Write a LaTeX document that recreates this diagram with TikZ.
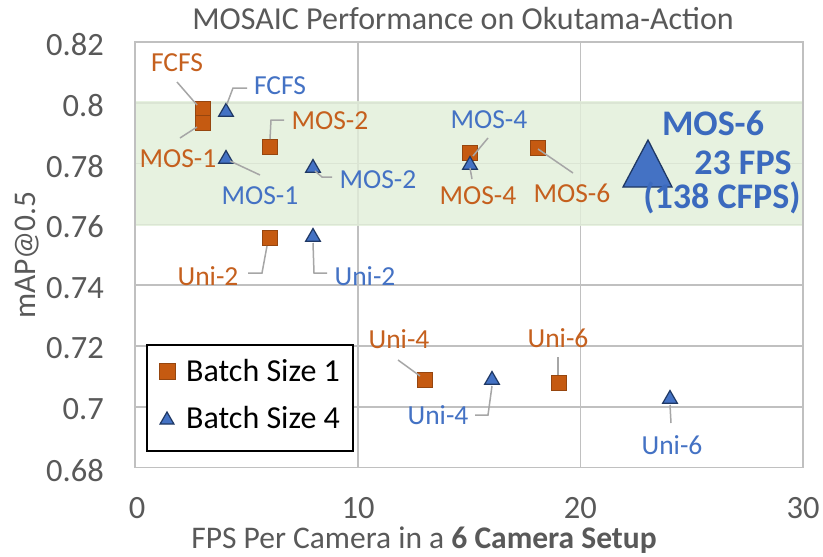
\documentclass[tikz,border=0pt]{standalone}
\usepackage{fontspec}
\setmainfont{Carlito}
\usetikzlibrary{shapes.geometric}
\definecolor{gridgray}{RGB}{192,192,192}
\definecolor{bandgreen}{RGB}{226,239,217}
\definecolor{orng}{RGB}{197,90,17}
\definecolor{orngedge}{RGB}{150,70,15}
\definecolor{orngtext}{RGB}{197,96,30}
\definecolor{triblue}{RGB}{68,114,196}
\definecolor{triedge}{RGB}{31,56,100}
\definecolor{bluetext}{RGB}{68,114,196}
\definecolor{bigblue}{RGB}{59,106,190}
\definecolor{axtext}{RGB}{89,89,89}
\definecolor{leadgray}{RGB}{166,166,166}
\begin{document}
\begin{tikzpicture}[x=1pt,y=-1pt,
  gridl/.style={draw=gridgray, line width=1.6pt},
  sq/.style={draw=orngedge, fill=orng, minimum size=15.5pt, inner sep=0pt, line width=0.8pt},
  tri/.style={regular polygon, regular polygon sides=3, draw=triedge, fill=triblue, inner sep=0pt, minimum size=17pt, line width=1.2pt},
  olab/.style={text=orngtext, font=\fontsize{27.5}{29}\selectfont, inner sep=0pt},
  blab/.style={text=bluetext, font=\fontsize{27.5}{29}\selectfont, inner sep=0pt},
  biglab/.style={text=bigblue, font=\fontsize{36}{38}\selectfont\bfseries, inner sep=0pt},
  lead/.style={draw=leadgray, line width=1.5pt},
  tick/.style={text=axtext, font=\fontsize{32.5}{35}\selectfont, inner sep=0pt},
  axtitle/.style={text=axtext, font=\fontsize{31.5}{33}\selectfont, inner sep=0pt},
  legtext/.style={text=black, font=\fontsize{32}{34}\selectfont, inner sep=0pt}]
\useasboundingbox (0,0) rectangle (823,557);
\fill[white] (0,0) rectangle (823,557);
% grid
\foreach \yy in {102.7,163.5,224.3,285.1,345.9,406.7}
  \draw[gridl] (135,\yy) -- (803,\yy);
\foreach \xx in {357.7,580.4}
  \draw[gridl] (\xx,41.9) -- (\xx,467.5);
% band
\fill[bandgreen, fill opacity=0.8] (135,101) rectangle (803,226);
\draw[gridl] (135,41.9) rectangle (803,467.5);
% title and axes
\node[text=axtext, font=\fontsize{32}{34}\selectfont, inner sep=0pt] (title) at (463,19) {MOSAIC Performance on Okutama-Action};
\foreach \v/\yy [count=\i] in {0.82/44.5,0.8/105.3,0.78/166.1,0.76/226.9,0.74/287.7,0.72/348.5,0.7/409.3,0.68/470.1}
  \node[tick, anchor=east] (yt\i) at (104,\yy) {\v};
\foreach \v/\xx [count=\i] in {0/137,10/358,20/580.4,30/803}
  \node[tick, anchor=base] (xt\i) at (\xx,518) {\v};
\node[axtitle, rotate=90] (ytitle) at (27,255) {mAP@0.5};
\node[axtitle, anchor=base] (xtitle) at (424,548) {FPS Per Camera in a \textbf{6 Camera Setup}};
% markers: batch size 1
\node[sq, minimum size=14.5pt] (sfcfs) at (203,109) {};
\node[sq, minimum size=14.5pt] (smos1) at (203,123) {};
\node[sq] (smos2) at (270,147) {};
\node[sq] (suni2) at (270,238) {};
\node[sq] (smos4) at (470,153) {};
\node[sq] (smos6) at (538,148) {};
\node[sq] (suni4) at (425,380) {};
\node[sq] (suni6) at (559,383) {};
% markers: batch size 4
\node[tri] (tfcfs) at (226,112) {};
\node[tri] (tmos1) at (226,159) {};
\node[tri] (tmos2) at (313,168) {};
\node[tri] (tuni2) at (313,237) {};
\node[tri] (tmos4) at (470,165) {};
\node[tri] (tuni4) at (492,380) {};
\node[tri] (tuni6) at (670,399) {};
\coordinate (tmos6) at (648,164);
\filldraw[fill=triblue, draw=triedge, line width=1.3pt] (648,140) -- (672,187) -- (623,187) -- cycle;
% labels
\node[olab] (lsfcfs) at (177,63) {FCFS};
\node[blab] (ltfcfs) at (280,86) {FCFS};
\node[olab] (lsmos1) at (178,159) {MOS-1};
\node[olab] (lsmos2) at (330,121) {MOS-2};
\node[blab] (ltmos1) at (260,196) {MOS-1};
\node[blab] (ltmos2) at (378,180) {MOS-2};
\node[olab] (lsuni2) at (208,276) {Uni-2};
\node[blab] (ltuni2) at (365,276) {Uni-2};
\node[olab] (lsuni4) at (399,339) {Uni-4};
\node[blab] (ltuni4) at (438,415) {Uni-4};
\node[olab] (lsuni6) at (558,338) {Uni-6};
\node[blab] (ltuni6) at (672,445) {Uni-6};
\node[blab] (ltmos4) at (489,120) {MOS-4};
\node[olab] (lsmos4) at (478,196) {MOS-4};
\node[olab] (lsmos6) at (572,193) {MOS-6};
\node[biglab] (lbig1) at (713,123) {MOS-6};
\node[biglab] (lbig2) at (743,163) {23 FPS};
\node[biglab] (lbig3) at (722,198) {(138 CFPS)};
% leaders
\coordinate (a1) at (177,82);  \coordinate (b1) at (197,105);
\draw[lead] (a1) -- (b1);
\coordinate (a2) at (247,88); \coordinate (e2) at (233,88); \coordinate (b2) at (227,104);
\draw[lead] (a2) -- (e2) -- (b2);
\coordinate (a3) at (180,138); \coordinate (b3) at (197,127);
\draw[lead] (a3) -- (b3);
\coordinate (a4) at (284,120); \coordinate (e4) at (271,120); \coordinate (b4) at (270,139);
\draw[lead] (a4) -- (e4) -- (b4);
\coordinate (a5) at (260,175); \coordinate (b5) at (230,161);
\draw[lead] (a5) -- (b5);
\coordinate (a6) at (332,177); \coordinate (e6) at (322,177); \coordinate (b6) at (315,171);
\draw[lead] (a6) -- (e6) -- (b6);
\coordinate (a7) at (248,273); \coordinate (e7) at (262,273); \coordinate (b7) at (267,246);
\draw[lead] (a7) -- (e7) -- (b7);
\coordinate (a8) at (327,273); \coordinate (e8) at (314,273); \coordinate (b8) at (313,243);
\draw[lead] (a8) -- (e8) -- (b8);
\coordinate (a9) at (398,360); \coordinate (b9) at (420,376);
\draw[lead] (a9) -- (b9);
\coordinate (a10) at (475,415); \coordinate (e10) at (488,415); \coordinate (b10) at (492,386);
\draw[lead] (a10) -- (e10) -- (b10);
\coordinate (a11) at (558,357); \coordinate (b11) at (558,375);
\draw[lead] (a11) -- (b11);
\coordinate (a12) at (671,423); \coordinate (b12) at (670,405);
\draw[lead] (a12) -- (b12);
\coordinate (a13) at (488,138); \coordinate (b13) at (473,156);
\draw[lead] (a13) -- (b13);
\coordinate (a14) at (472,179); \coordinate (b14) at (470,168);
\draw[lead] (a14) -- (b14);
\coordinate (a15) at (573,173); \coordinate (b15) at (538,149);
\draw[lead] (a15) -- (b15);
% legend
\node[draw=black, line width=1.6pt, fill=white, minimum width=206pt, minimum height=106pt, inner sep=0pt, anchor=north west] (legend) at (146,344) {};
\node[sq, minimum size=16pt] (lgsq) at (167,371) {};
\node[legtext, anchor=west] (lgt1) at (186,371) {Batch Size 1};
\node[tri, minimum size=16pt] (lgtri) at (167,420) {};
\node[legtext, anchor=west] (lgt4) at (186,418) {Batch Size 4};
\end{tikzpicture}
\end{document}
